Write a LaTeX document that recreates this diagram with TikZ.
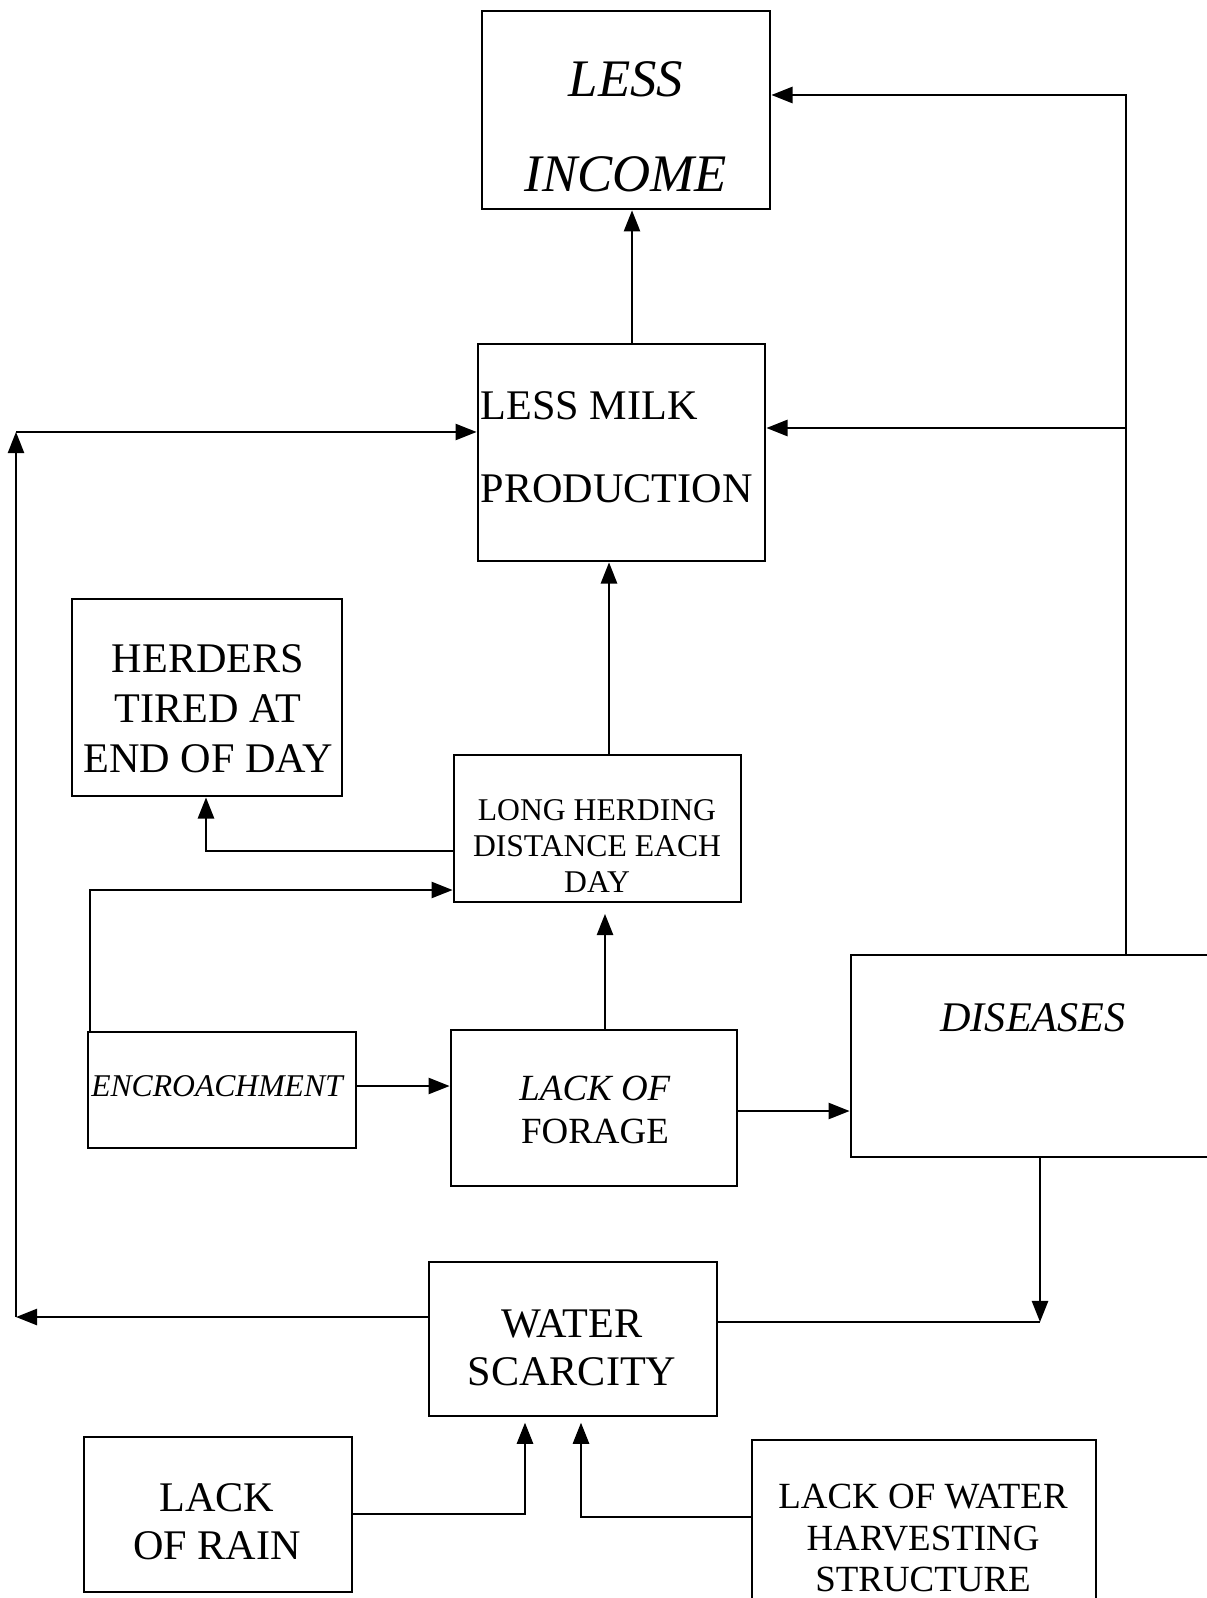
\documentclass[tikz,border=0pt]{standalone}
\usepackage{fontspec}
\setmainfont{Liberation Serif}
\usetikzlibrary{fit,arrows.meta}
\tikzset{
  factbox/.style={draw, line width=0.8pt, inner sep=0pt},
  facttext/.style={inner sep=0pt, align=center},
  causearrow/.style={-{Triangle[length=6pt,width=4.6pt]}, line width=0.6pt},
  causeline/.style={line width=0.6pt}
}

\begin{document}
\begin{tikzpicture}[x=0.01cm, y=-0.01cm]
  \useasboundingbox (0,0) rectangle (1206,1598);
  \fill[white] (0,0) rectangle (1206,1598);

  % --- top: income and milk ---
  \node[factbox, fit={(482,11) (770,209)}] (income) {};
  \node[facttext, font=\fontsize{15}{27}\selectfont\itshape] (income-t) at (626,127) {LESS\\INCOME};
  \node[factbox, fit={(478,344) (765,561)}] (milk) {};
  \node[facttext, align=left, anchor=west, font=\fontsize{12}{23.5}\selectfont] (milk-t) at (480,447) {LESS MILK\\PRODUCTION};

  % --- middle: herding ---
  \node[factbox, fit={(72,599) (342,796)}] (herders) {};
  \node[facttext, font=\fontsize{12}{14.2}\selectfont] (herders-t) at (208,709) {HERDERS\\TIRED AT\\END OF DAY};
  \node[factbox, fit={(454,755) (741,902)}] (herd) {};
  \node[facttext, font=\fontsize{9}{10.2}\selectfont] (herd-t) at (597,846) {LONG HERDING\\DISTANCE EACH\\DAY};

  % --- forage row ---
  \node[factbox, fit={(88,1032) (356,1148)}] (enc) {};
  \node[facttext, font=\fontsize{9}{10.2}\selectfont\itshape] (enc-t) at (217,1086) {ENCROACHMENT};
  \node[factbox, fit={(451,1030) (737,1186)}] (forage) {};
  \node[facttext, font=\fontsize{10.5}{12.2}\selectfont] (forage-t) at (595,1110) {\textit{LACK OF}\\FORAGE};
  \node[factbox, fit={(851,955) (1230,1157)}] (dis) {};
  \node[facttext, font=\fontsize{12}{14}\selectfont\itshape] (dis-t) at (1033,1018) {DISEASES};

  % --- bottom: water ---
  \node[factbox, fit={(429,1262) (717,1416)}] (water) {};
  \node[facttext, font=\fontsize{12}{13.6}\selectfont] (water-t) at (572,1348) {WATER\\SCARCITY};
  \node[factbox, fit={(84,1437) (352,1592)}] (rain) {};
  \node[facttext, font=\fontsize{12}{13.6}\selectfont] (rain-t) at (217,1522) {LACK\\OF RAIN};
  \node[factbox, fit={(752,1440) (1096,1640)}] (harv) {};
  \node[facttext, font=\fontsize{10.5}{11.9}\selectfont] (harv-t) at (923,1538) {LACK OF WATER\\HARVESTING\\STRUCTURE};

  % --- corners of the long connectors ---
  \coordinate (rt) at (1126,95);
  \coordinate (rm) at (1126,428);
  \coordinate (lb) at (16,1317);
  \coordinate (lt) at (16,432);
  \coordinate (cd) at (1040,1322);

  % --- connectors ---
  \draw[causearrow] (milk.north -| 632,0) -- (income.south -| 632,0);
  \draw[causearrow] (dis.north -| rt) -- (rt) -- (income.east |- rt);
  \draw[causearrow] (rm) -- (milk.east |- rm);
  \draw[causearrow] (herd.north -| 609,0) -- (milk.south -| 609,0);
  \draw[causearrow, shorten >=3pt] (forage.north -| 605,0) -- (herd.south -| 605,0);
  \draw[causearrow] (herd.west |- 0,851) -| (herders.south -| 206,0);
  \draw[causearrow] (enc.north -| 90,0) |- (herd.west |- 0,890);
  \draw[causearrow] (enc.east |- 0,1086) -- (forage.west |- 0,1086);
  \draw[causearrow] (forage.east |- 0,1111) -- (dis.west |- 0,1111);
  \draw[causearrow] (dis.south -| cd) -- (cd);
  \draw[causeline] (water.east |- cd) -- (cd);
  \draw[causearrow] (water.west |- lb) -- (lb);
  \draw[causearrow] (lb) -- (lt);
  \draw[causearrow] (lt) -- (milk.west |- lt);
  \draw[causearrow, shorten >=1.5pt] (rain.east |- 0,1514) -| (water.south -| 525,0);
  \draw[causearrow, shorten >=1.5pt] (harv.west |- 0,1517) -| (water.south -| 581,0);
\end{tikzpicture}
\end{document}
